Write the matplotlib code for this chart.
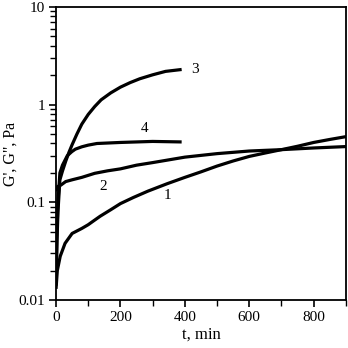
import matplotlib
matplotlib.use("Agg")
import matplotlib.pyplot as plt
from matplotlib.ticker import FixedLocator, FuncFormatter, LogLocator, NullFormatter

plt.rcParams["font.family"] = ["Liberation Serif", "DejaVu Serif"]

# curve 1
t1 = [0, 4, 13, 28, 50, 80, 100, 115, 137, 170, 200, 240, 285, 345, 400, 450, 500,
      550, 600, 650, 700, 750, 800, 850, 900]
g1 = [0.013, 0.02, 0.028, 0.038, 0.048, 0.054, 0.059, 0.064, 0.072, 0.084, 0.097,
      0.112, 0.13, 0.155, 0.18, 0.205, 0.235, 0.265, 0.295, 0.32, 0.346, 0.375,
      0.41, 0.44, 0.47]
# curve 2
t2 = [0, 5, 15, 30, 50, 80, 120, 160, 200, 250, 300, 400, 500, 600, 700, 800, 900]
g2 = [0.13, 0.145, 0.15, 0.163, 0.17, 0.18, 0.198, 0.21, 0.22, 0.24, 0.255, 0.29,
      0.315, 0.335, 0.346, 0.36, 0.372]
# curve 3
t3 = [0, 3, 6, 12, 20, 30, 40, 50, 65, 80, 100, 120, 140, 170, 200, 230, 260, 300, 340, 390]
g3 = [0.014, 0.04, 0.08, 0.17, 0.209, 0.263, 0.324, 0.389, 0.501, 0.631, 0.794, 0.955,
      1.12, 1.32, 1.51, 1.68, 1.84, 2.02, 2.19, 2.29]
# curve 4
t4 = [0, 3, 6, 12, 20, 35, 49, 60, 80, 100, 127, 200, 300, 390]
g4 = [0.016, 0.05, 0.1, 0.2, 0.24, 0.3, 0.33, 0.35, 0.37, 0.385, 0.40, 0.41, 0.42, 0.415]

labels = ["1", "2", "3", "4"]
label_t = [347, 145, 433, 275]
label_g = [0.117, 0.145, 2.28, 0.57]

fig = plt.figure(figsize=(3.48, 3.48), dpi=100)
ax = fig.add_axes([0.161, 0.138, 0.833, 0.842])

for t, g in [(t1, g1), (t2, g2), (t3, g3), (t4, g4)]:
    ax.plot(t, g, color="black", lw=2.3, solid_capstyle="butt", solid_joinstyle="round")

for s, x, y in zip(labels, label_t, label_g):
    ax.text(x, y, s, fontsize=11, ha="center", va="center")

ax.set_yscale("log")
ax.set_xlim(0, 900)
ax.set_ylim(0.01, 10)
ax.xaxis.set_major_locator(FixedLocator([0, 200, 400, 600, 800]))
ax.xaxis.set_minor_locator(FixedLocator([100, 300, 500, 700, 900]))
ax.yaxis.set_major_locator(FixedLocator([0.01, 0.1, 1, 10]))
ax.yaxis.set_major_formatter(FuncFormatter(lambda v, p: "%g" % v))
ax.yaxis.set_minor_locator(LogLocator(base=10, subs=range(2, 10)))
ax.yaxis.set_minor_formatter(NullFormatter())

ax.tick_params(which="major", direction="out", length=5, width=1.2, labelsize=11, pad=3)
ax.tick_params(which="minor", direction="out", length=4, width=1.0)
for sp in ax.spines.values():
    sp.set_linewidth(1.3)

ax.set_xlabel("t, min", fontsize=12, labelpad=2)
ax.set_ylabel("G', G\", Pa", fontsize=11.5, labelpad=0)

fig.savefig("out.png", dpi=100)
